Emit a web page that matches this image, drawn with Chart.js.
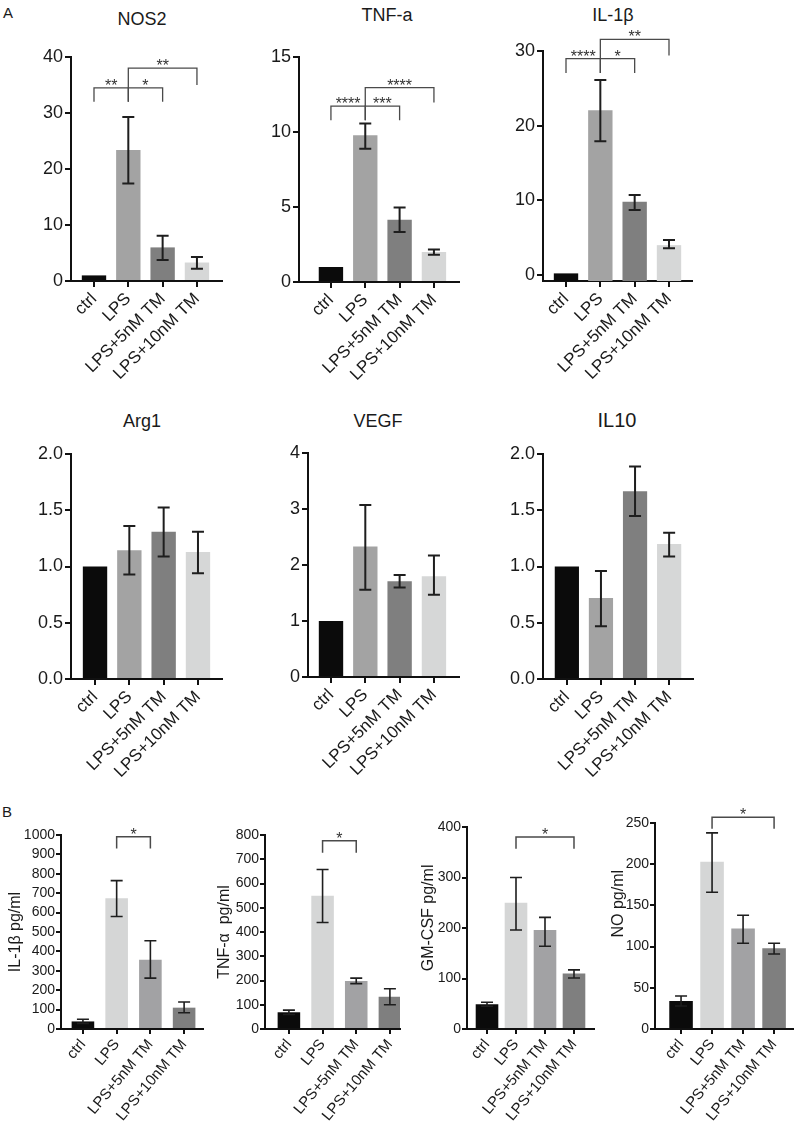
<!DOCTYPE html>
<html>
<head>
<meta charset="utf-8">
<script src="https://cdn.jsdelivr.net/npm/chart.js@4.4.1/dist/chart.umd.min.js"></script>
<style>
    body { margin: 0; background: #fff; width: 800px; height: 1128px; position: relative; overflow: hidden;
           font-family: 'Liberation Sans', Arial, sans-serif; }
    canvas { position: absolute; }
    .lbl { position: absolute; color: #1a1a1a; white-space: nowrap; transform: translate(-50%, -50%); font-size: 18px; }
    .tag { position: absolute; color: #1a1a1a; font-size: 15px; }
</style>
</head>
<body>

<div class="tag" style="left:3px;top:4px;">A</div>
<div class="tag" style="left:2px;top:803px;">B</div>
<div class="lbl" style="left:142px;top:19px;">NOS2</div>
<div class="lbl" style="left:387px;top:15px;">TNF-a</div>
<div class="lbl" style="left:613px;top:15px;">IL-1β</div>
<div class="lbl" style="left:142px;top:421px;">Arg1</div>
<div class="lbl" style="left:378px;top:421px;">VEGF</div>
<div class="lbl" style="left:617px;top:420px;font-size:20px;">IL10</div>

<script>
// ---- data ----
const groups = ['ctrl', 'LPS', 'LPS+5nM TM', 'LPS+10nM TM'];

// A: relative mRNA expression (mean, error bar low/high)
const nos2Mean = [1.0, 23.4, 6.0, 3.3];
const nos2Low  = [1.0, 17.4, 3.75, 2.2];
const nos2High = [1.0, 29.3, 8.1, 4.3];

const tnfMean = [1.0, 9.78, 4.15, 2.0];
const tnfLow  = [1.0, 8.89, 3.33, 1.82];
const tnfHigh = [1.0, 10.56, 4.96, 2.16];

const il1bMean = [0.22, 22.07, 9.8, 4.0];
const il1bLow  = [0.22, 17.9, 8.7, 3.6];
const il1bHigh = [0.22, 26.1, 10.7, 4.7];

const arg1Mean = [1.0, 1.145, 1.31, 1.13];
const arg1Low  = [1.0, 0.93, 1.09, 0.94];
const arg1High = [1.0, 1.36, 1.525, 1.31];

const vegfMean = [1.0, 2.33, 1.71, 1.8];
const vegfLow  = [1.0, 1.56, 1.6, 1.47];
const vegfHigh = [1.0, 3.07, 1.82, 2.17];

const il10Mean = [1.0, 0.72, 1.67, 1.2];
const il10Low  = [1.0, 0.47, 1.45, 1.09];
const il10High = [1.0, 0.96, 1.89, 1.3];

// B: secreted protein, pg/ml
const il1bPgMean = [39, 674, 357, 110];
const il1bPgLow  = [29, 580, 262, 84];
const il1bPgHigh = [50, 765, 455, 139];

const tnfPgMean = [69, 549, 198, 133];
const tnfPgLow  = [60, 439, 187, 100];
const tnfPgHigh = [78, 658, 210, 166];

const gmcsfMean = [49, 250, 196, 110];
const gmcsfLow  = [45, 196, 164, 101];
const gmcsfHigh = [53, 300, 221, 117];

const noMean = [34, 203, 122, 98];
const noLow  = [28, 166, 104, 91];
const noHigh = [40, 238, 138, 104];

// significance brackets: [from, to, stars, bar level, left leg end, right leg end]
const nos2Sig  = [[0, 1, '**', 34.5, 32.0, 32.0], [1, 2, '*', 34.5, 32.0, 32.0], [1, 3, '**', 38.0, 34.5, 35.0]];
const tnfSig   = [[0, 1, '****', 11.73, 10.78, 10.78], [1, 2, '***', 11.73, 10.78, 10.78], [1, 3, '****', 12.96, 11.73, 11.96]];
const il1bSig  = [[0, 1, '****', 28.98, 27.06, 27.06], [1, 2, '*', 28.98, 27.06, 27.06], [1, 3, '**', 31.57, 28.98, 29.4]];
const il1bPgSig = [[1, 2, '*', 991, 931, 931]];
const tnfPgSig  = [[1, 2, '*', 776, 727, 727]];
const gmcsfSig  = [[1, 3, '*', 380, 357, 357]];
const noSig     = [[1, 3, '*', 257, 243, 243]];

// ---- styling ----
const colorsA = ['#0b0b0b', '#a3a3a3', '#7f7f7f', '#d6d7d7'];
const colorsB = ['#0b0b0b', '#d5d6d6', '#a2a2a4', '#7f7f7f'];
const FONT = "'Liberation Sans', Arial, sans-serif";
const INK = '#1a1a1a';

// error bars, significance brackets and rotated y titles
const extras = {
    id: 'extras',
    afterDraw(chart, args, o) {
        const { ctx } = chart;
        const xs = chart.scales.x, ys = chart.scales.y;
        ctx.save();
        ctx.strokeStyle = '#1e1e1e';
        ctx.lineWidth = o.errWidth;
        o.low.forEach((lo, i) => {
            const hi = o.high[i];
            if (hi - lo <= 0) return;
            const px = xs.getPixelForValue(i);
            const y1 = ys.getPixelForValue(hi), y2 = ys.getPixelForValue(lo);
            ctx.beginPath();
            ctx.moveTo(px, y1); ctx.lineTo(px, y2);
            ctx.moveTo(px - o.cap, y1); ctx.lineTo(px + o.cap, y1);
            ctx.moveTo(px - o.cap, y2); ctx.lineTo(px + o.cap, y2);
            ctx.stroke();
        });

        ctx.strokeStyle = '#4a4a4a';
        ctx.lineWidth = o.brWidth;
        ctx.fillStyle = '#333';
        ctx.font = `16px ${FONT}`;
        ctx.textAlign = 'center';
        ctx.textBaseline = 'alphabetic';
        o.sig.forEach(([a, b, stars, lvl, legA, legB]) => {
            const xa = xs.getPixelForValue(a), xb = xs.getPixelForValue(b);
            const yb = ys.getPixelForValue(lvl);
            ctx.beginPath();
            ctx.moveTo(xa, ys.getPixelForValue(legA));
            ctx.lineTo(xa, yb);
            ctx.lineTo(xb, yb);
            ctx.lineTo(xb, ys.getPixelForValue(legB));
            ctx.stroke();
            ctx.fillText(stars, (xa + xb) / 2, yb + 3);
        });

        if (o.yTitle) {
            ctx.fillStyle = INK;
            ctx.font = `16px ${FONT}`;
            ctx.textBaseline = 'middle';
            ctx.translate(chart.chartArea.left + o.yTitleDx, ys.getPixelForValue(o.yTitleAt));
            ctx.rotate(-Math.PI / 2);
            ctx.fillText(o.yTitle, 0, 0);
        }
        ctx.restore();
    }
};

// chart area (page pixels) for each panel, and its scales
const panels = [
    { mean: nos2Mean, low: nos2Low, high: nos2High, sig: nos2Sig, colors: colorsA,
      area: { l: 71, r: 222, t: 57, b: 281 }, yMin: 0, yMax: 40, yStep: 10, dec: 0, xMin: -0.67, xMax: 3.73, bar: 0.71 },
    { mean: tnfMean, low: tnfLow, high: tnfHigh, sig: tnfSig, colors: colorsA,
      area: { l: 299, r: 459, t: 57, b: 282 }, yMin: 0, yMax: 15, yStep: 5, dec: 0, xMin: -0.93, xMax: 3.73, bar: 0.71 },
    { mean: il1bMean, low: il1bLow, high: il1bHigh, sig: il1bSig, colors: colorsA,
      area: { l: 543, r: 692, t: 51, b: 281 }, yMin: -0.8, yMax: 30, yStep: 10, dec: 0, xMin: -0.67, xMax: 3.67, bar: 0.71 },
    { mean: arg1Mean, low: arg1Low, high: arg1High, sig: [], colors: colorsA,
      area: { l: 71, r: 222, t: 454, b: 679 }, yMin: 0, yMax: 2, yStep: 0.5, dec: 1, xMin: -0.70, xMax: 3.70, bar: 0.71 },
    { mean: vegfMean, low: vegfLow, high: vegfHigh, sig: [], colors: colorsA,
      area: { l: 308, r: 459, t: 453, b: 677 }, yMin: 0, yMax: 4, yStep: 1, dec: 0, xMin: -0.67, xMax: 3.73, bar: 0.71 },
    { mean: il10Mean, low: il10Low, high: il10High, sig: [], colors: colorsA,
      area: { l: 543, r: 693, t: 454, b: 679 }, yMin: 0, yMax: 2, yStep: 0.5, dec: 1, xMin: -0.70, xMax: 3.70, bar: 0.71 },
    { mean: il1bPgMean, low: il1bPgLow, high: il1bPgHigh, sig: il1bPgSig, colors: colorsB, small: true,
      area: { l: 61, r: 203, t: 835, b: 1029 }, yMin: 0, yMax: 1000, yStep: 100, dec: 0, xMin: -0.65, xMax: 3.56, bar: 0.67,
      yTitle: 'IL-1β pg/ml', yTitleAt: 500, yTitleDx: -45 },
    { mean: tnfPgMean, low: tnfPgLow, high: tnfPgHigh, sig: tnfPgSig, colors: colorsB, small: true,
      area: { l: 265, r: 400, t: 835, b: 1029 }, yMin: 0, yMax: 800, yStep: 100, dec: 0, xMin: -0.71, xMax: 3.3, bar: 0.67,
      yTitle: 'TNF-α  pg/ml', yTitleAt: 400, yTitleDx: -40 },
    { mean: gmcsfMean, low: gmcsfLow, high: gmcsfHigh, sig: gmcsfSig, colors: colorsB, small: true,
      area: { l: 467, r: 594, t: 827, b: 1029 }, yMin: 0, yMax: 400, yStep: 100, dec: 0, xMin: -0.69, xMax: 3.69, bar: 0.78,
      yTitle: 'GM-CSF pg/ml', yTitleAt: 220, yTitleDx: -38 },
    { mean: noMean, low: noLow, high: noHigh, sig: noSig, colors: colorsB, small: true,
      area: { l: 655, r: 793, t: 823, b: 1029 }, yMin: 0, yMax: 250, yStep: 50, dec: 0, xMin: -0.84, xMax: 3.61, bar: 0.76,
      yTitle: 'NO pg/ml', yTitleAt: 152, yTitleDx: -36 },
];

function makePanel(p) {
    const a = p.area;
    const cx = Math.max(0, a.l - 68), cy = Math.max(0, a.t - 60);
    const cw = a.r + 14 - cx, ch = Math.min(1128, a.b + 118) - cy;
    const cv = document.createElement('canvas');
    cv.width = cw; cv.height = ch;
    cv.style.left = cx + 'px'; cv.style.top = cy + 'px';
    cv.style.width = cw + 'px'; cv.style.height = ch + 'px';
    document.body.appendChild(cv);

    const axisLine = { display: true, color: '#111', width: 2 };
    const tickMarks = { display: true, drawOnChartArea: false, drawTicks: true, tickLength: p.small ? 5 : 6, color: '#111', lineWidth: 2 };

    new Chart(cv, {
        type: 'bar',
        data: {
            datasets: [{
                data: p.mean.map((v, i) => ({ x: i, y: v })),
                backgroundColor: p.colors,
                base: p.yMin,
                barPercentage: p.bar,
                categoryPercentage: 1,
                borderWidth: 0,
            }]
        },
        options: {
            responsive: false,
            animation: false,
            devicePixelRatio: 1,
            layout: { padding: { top: a.t - cy, right: cx + cw - a.r, left: 0, bottom: 0 } },
            plugins: {
                legend: { display: false },
                tooltip: { enabled: false },
                extras: {
                    low: p.low, high: p.high, sig: p.sig,
                    cap: 6, errWidth: p.small ? 1.6 : 2, brWidth: p.small ? 1.5 : 1.3,
                    yTitle: p.yTitle, yTitleAt: p.yTitleAt, yTitleDx: p.yTitleDx,
                },
            },
            scales: {
                x: {
                    type: 'linear', min: p.xMin, max: p.xMax, offset: false,
                    grid: { ...tickMarks, offset: false },
                    border: axisLine,
                    ticks: {
                        stepSize: 1, includeBounds: false, autoSkip: false,
                        minRotation: p.small ? 50 : 45, maxRotation: p.small ? 50 : 45,
                        padding: 2, color: INK,
                        font: { family: FONT, size: p.small ? 15 : 17 },
                        callback: (v) => groups[v] ?? '',
                    },
                    afterFit(s) { s.height = cy + ch - a.b; },
                },
                y: {
                    min: p.yMin, max: p.yMax,
                    grid: tickMarks,
                    border: axisLine,
                    ticks: {
                        stepSize: p.yStep, includeBounds: false, autoSkip: false,
                        padding: p.small ? 1 : 2, color: INK,
                        font: { family: FONT, size: p.small ? 14 : 18 },
                        callback: (v) => v.toFixed(p.dec),
                    },
                    afterFit(s) { s.width = a.l - cx; },
                },
            },
        },
        plugins: [extras],
    });
}

panels.forEach(makePanel);
</script>
</body>
</html>
